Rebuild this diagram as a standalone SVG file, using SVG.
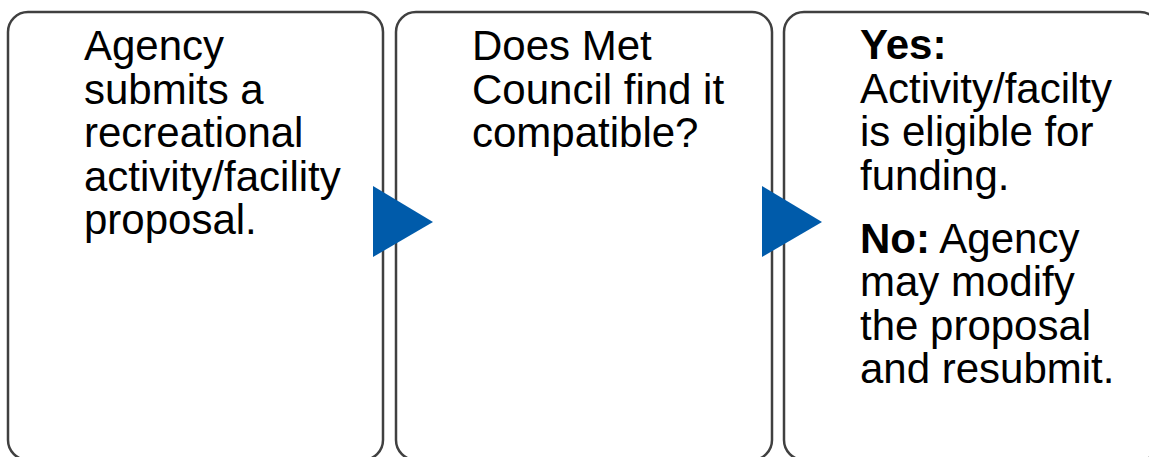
<svg xmlns="http://www.w3.org/2000/svg" width="1149" height="457" viewBox="0 0 1149 457">
<style>
.box{fill:#fff;stroke:#404040;stroke-width:2.5}
.t{font-family:"Liberation Sans",Arial,sans-serif;font-size:42px;fill:#000}
.b{font-weight:bold}
.arr{fill:#005BAA}
</style>
<rect width="1149" height="457" fill="#fff"/>
<g id="node1">
<rect class="box" x="8" y="12" width="375" height="448" rx="20"/>
<text class="t" x="84"><tspan x="84" y="60">Agency</tspan><tspan x="84" y="103.5">submits a</tspan><tspan x="84" y="147">recreational</tspan><tspan x="84" y="190.5">activity/facility</tspan><tspan x="84" y="234">proposal.</tspan></text>
</g>
<g id="node2">
<rect class="box" x="396" y="12" width="376" height="448" rx="20"/>
<text class="t"><tspan x="472" y="60">Does Met</tspan><tspan x="472" y="103.5">Council find it</tspan><tspan x="472" y="147">compatible?</tspan></text>
</g>
<g id="node3">
<rect class="box" x="784" y="12" width="376" height="448" rx="20"/>
<text class="t"><tspan x="860" y="59" class="b">Yes:</tspan><tspan x="860" y="102.5">Activity/facilty</tspan><tspan x="860" y="146">is eligible for</tspan><tspan x="860" y="189.5">funding.</tspan></text>
<text class="t"><tspan x="860" y="252.5"><tspan class="b">No:</tspan> Agency</tspan><tspan x="860" y="296">may modify</tspan><tspan x="860" y="339.5">the proposal</tspan><tspan x="860" y="383">and resubmit.</tspan></text>
</g>
<g id="connectors">
<polygon class="arr" points="373,186 433,222 373,257"/>
<polygon class="arr" points="762,186 822,222 762,257"/>
</g>
</svg>
